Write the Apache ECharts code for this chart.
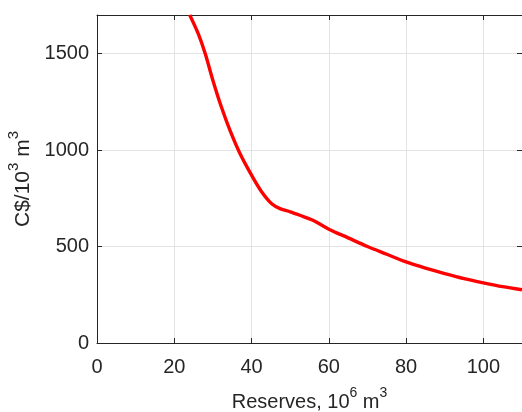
<!DOCTYPE html>
<html>
<head>
<meta charset="utf-8">
<script src="https://cdn.jsdelivr.net/npm/echarts@6/dist/echarts.min.js"></script>
<style>
html,body{margin:0;padding:0;background:#fff;}
#c{width:522px;height:412px;}
</style>
</head>
<body>
<div id="c"></div>
<script>
// Data
var reserves = [24, 26.2, 28, 30, 32.2, 34.4, 37, 40, 42.6, 45.3, 47.5, 50, 52.5, 56, 60, 65, 70, 75, 80, 85, 90, 95, 100, 105, 110];
var cost = [1700, 1603, 1500, 1361, 1223, 1103, 982, 870, 784, 720, 695, 680, 662, 635, 590, 545, 500, 460, 420, 388, 360, 334, 312, 292, 276];
var xTicks = [0, 20, 40, 60, 80, 100];
var yTicks = [0, 500, 1000, 1500];

var textColor = '#262626';
var fontFam = '"Liberation Sans", Arial, Helvetica, sans-serif';
var gridColor = '#e3e3e3';

var chart = echarts.init(document.getElementById('c'), null, {renderer: 'canvas'});
var pts = reserves.map(function (x, i) { return [x, cost[i]]; });

var richName = {
  n: {fontSize: 20, color: textColor, fontFamily: fontFam, lineHeight: 26, verticalAlign: 'bottom'},
  s: {fontSize: 14, color: textColor, fontFamily: fontFam, lineHeight: 26, verticalAlign: 'top'}
};
var richNameY = {
  n: {fontSize: 21, color: textColor, fontFamily: fontFam, lineHeight: 27, verticalAlign: 'bottom'},
  s: {fontSize: 15, color: textColor, fontFamily: fontFam, lineHeight: 27, verticalAlign: 'top'}
};

function baseAxis(extra) {
  var a = {
    type: 'value',
    axisLine: {show: true, onZero: false, lineStyle: {color: textColor, width: 1}},
    axisTick: {show: true, inside: true, length: 5, lineStyle: {color: textColor}},
    splitLine: {show: false},
    axisLabel: {show: false}
  };
  for (var k in extra) a[k] = extra[k];
  return a;
}

chart.setOption({
  animation: false,
  backgroundColor: '#fff',
  grid: {left: 97, top: 15, width: 425, height: 328, containLabel: false, outerBoundsMode: 'none'},
  xAxis: [
    baseAxis({
      position: 'bottom', min: 0, max: 110, interval: 20,
      splitLine: {show: true, lineStyle: {color: gridColor, width: 1}},
      axisLabel: {show: true, margin: 14, fontSize: 20, color: textColor, fontFamily: fontFam,
        showMaxLabel: false,
        formatter: function (v) { return xTicks.indexOf(v) >= 0 ? String(v) : ''; }},
      name: '{n|Reserves, 10}{s|6}{n| m}{s|3}',
      nameLocation: 'middle', nameGap: 43,
      nameTextStyle: {rich: richName}
    }),
    baseAxis({position: 'top', min: 0, max: 110, interval: 20})
  ],
  yAxis: [
    baseAxis({
      position: 'left', min: 0, max: 1700, interval: 500,
      splitLine: {show: true, lineStyle: {color: gridColor, width: 1}},
      axisLabel: {show: true, margin: 8, fontSize: 20, color: textColor, fontFamily: fontFam,
        showMaxLabel: false,
        formatter: function (v) { return yTicks.indexOf(v) >= 0 ? String(v) : ''; }},
      name: '{n|C$/10}{s|3}{n| m}{s|3}',
      nameLocation: 'middle', nameGap: 56, nameRotate: 90,
      nameTextStyle: {rich: richNameY}
    }),
    baseAxis({position: 'right', min: 0, max: 1700, interval: 500})
  ],
  series: [{
    type: 'line',
    xAxisIndex: 0, yAxisIndex: 0,
    data: pts,
    smooth: 0.3,
    showSymbol: false,
    clip: true,
    lineStyle: {color: '#ff0000', width: 3.4}
  }]
});
</script>
</body>
</html>
